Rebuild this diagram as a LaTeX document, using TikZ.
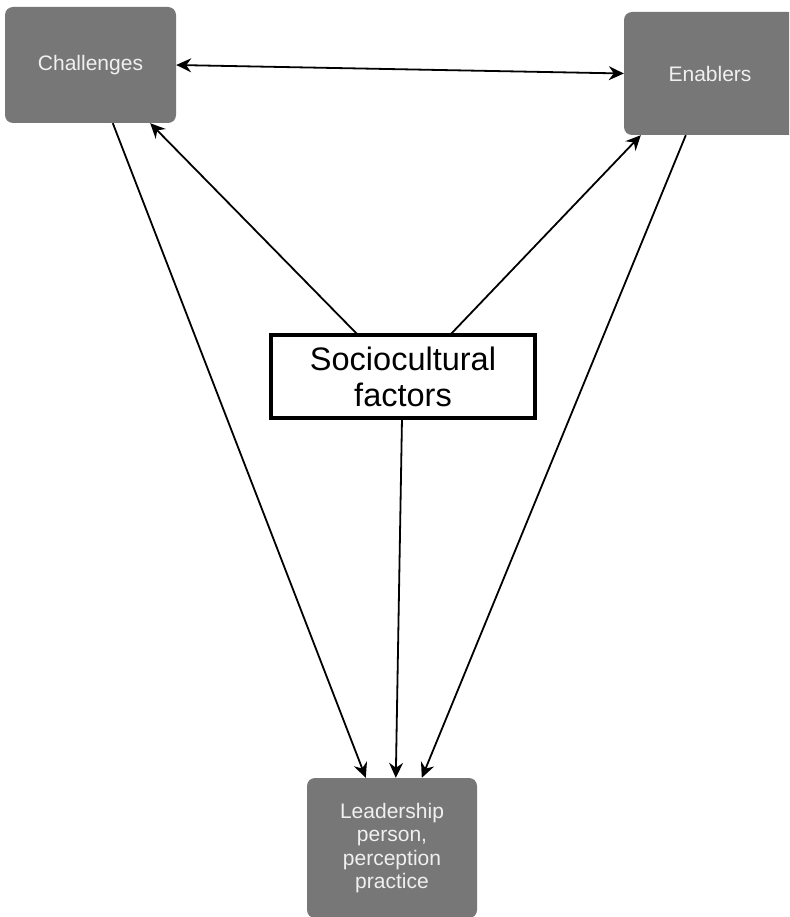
\documentclass[tikz,border=0pt]{standalone}
\usepackage{fontspec}
\setmainfont{Liberation Sans}
\usetikzlibrary{arrows.meta,calc}
\definecolor{boxgray}{HTML}{777777}
\definecolor{boxtext}{HTML}{F0F0F0}
\tikzset{
  graybox/.style={draw=none, fill=boxgray, rounded corners=8pt, text=boxtext, align=center, inner sep=0pt},
  sociobox/.style={draw=black, line width=4pt, fill=white, align=center, inner sep=0pt, font=\fontsize{32.5}{36}\selectfont},
  tip/.style={Stealth[length=15pt,width=14pt,inset=5pt]},
  conn/.style={line width=1.8pt, -{Stealth[length=15pt,width=14pt,inset=5pt]}},
  bconn/.style={line width=1.8pt, {Stealth[length=15pt,width=14pt,inset=5pt]}-{Stealth[length=15pt,width=14pt,inset=5pt]}}
}
\begin{document}
\begin{tikzpicture}[x=1pt,y=-1pt]
\useasboundingbox (0,0) rectangle (789,917);
\fill[white] (0,0) rectangle (789,917);
\begin{scope}
\clip (0,0) rectangle (789,917);
\node[graybox, minimum width=171pt, minimum height=116pt, font=\fontsize{21}{24}\selectfont] (ch) at (90.5,65) {Challenges};
\node[graybox, minimum width=172pt, minimum height=123pt, font=\fontsize{21}{24}\selectfont] (en) at (710,73.5) {Enablers};
\node[sociobox, minimum width=264pt, minimum height=83pt] (so) at (403,376.5) {Sociocultural\\factors};
\node[graybox, minimum width=170pt, minimum height=140pt, font=\fontsize{21}{23.5}\selectfont] (le) at (392,848) {Leadership\\person,\\perception\\practice};
\end{scope}
\draw[bconn] (ch.east) -- (en.west);
\draw[conn] ([xshift=89pt,yshift=-2pt]so.north west) -- ([xshift=-26pt]ch.south east);
\draw[conn] ([xshift=181pt,yshift=-2pt]so.north west) -- ([xshift=17pt]en.south west);
\draw[conn] ([xshift=108pt]ch.south west) -- ([xshift=59pt]le.north west);
\draw[conn] ([xshift=133pt,yshift=2pt]so.south west) -- ([xshift=89pt]le.north west);
\draw[conn] ([xshift=62pt]en.south west) -- ([xshift=115pt]le.north west);
\end{tikzpicture}
\end{document}
